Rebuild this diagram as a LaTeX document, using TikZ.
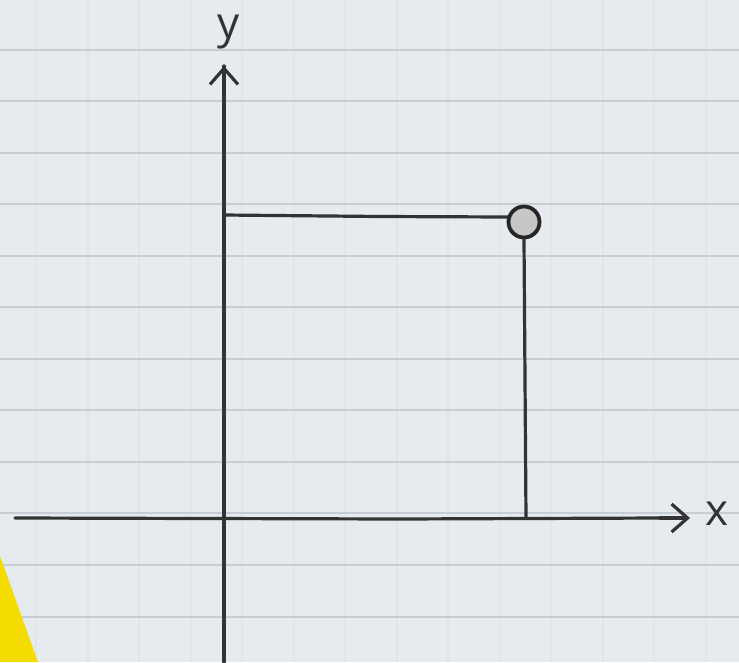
\documentclass[tikz,border=0pt]{standalone}
\usepackage{fontspec}
\setsansfont{Open Sans}
\usetikzlibrary{arrows.meta}
\definecolor{paper}{HTML}{E6EBF0}
\definecolor{hline}{HTML}{C8CDD3}
\definecolor{vline}{HTML}{E0E5EA}
\definecolor{ink}{HTML}{333333}
\definecolor{marker}{HTML}{F5DC00}
\tikzset{
  hrule/.style={hline, line width=2.6pt},
  vrule/.style={vline, line width=1.2pt},
  axis/.style={ink, line width=3.2pt, line cap=round},
  arrowhead/.style={-{Straight Barb[length=16pt,width=28pt,line width=3.2pt]}},
  pt/.style={circle, draw=black!85, fill=black!22, line width=3.8pt, minimum size=31pt, inner sep=0pt},
  lab/.style={font=\sffamily\fontsize{44}{44}\selectfont, text=ink, inner sep=0pt}
}
\begin{document}
\begin{tikzpicture}[x=1pt,y=-1pt]
\fill[paper] (0,0) rectangle (739,662);
\useasboundingbox (0,0) rectangle (739,662);
\foreach \x in {36,88,139,191,242,294,345,397,448,500,551,603,654,706}
  \draw[vrule] (\x,0) -- (\x,662);
\foreach \y in {50,101,153,204,256,307,359,410,462,513,565,617}
  \draw[hrule] (0,\y) -- (739,\y);
\fill[marker] (0,556) -- (38,662) -- (0,662) -- cycle;
\coordinate (ybot) at (224,662);
\coordinate (ytop) at (224,66);
\coordinate (xleft) at (15,518);
\coordinate (xright) at (690,518);
\coordinate (yp) at (224,215);
\coordinate (xp) at (526,518);
\coordinate (pw) at (508,217);
\draw[axis] (ybot) -- (224,240) -- (ytop);
\draw[axis,arrowhead] (224,100) -- (ytop);
\draw[axis] (xleft) -- (400,519) -- (660,518);
\draw[axis,arrowhead] (660,518) -- (xright);
\draw[axis] (yp) -- (380,216.5) -- (pw);
\node[pt] (P) at (524,222) {};
\draw[axis] (P.south) -- (xp);
\node[lab] (ylab) at (229,32) {y};
\node[lab] (xlab) at (717,514) {x};
\end{tikzpicture}
\end{document}
